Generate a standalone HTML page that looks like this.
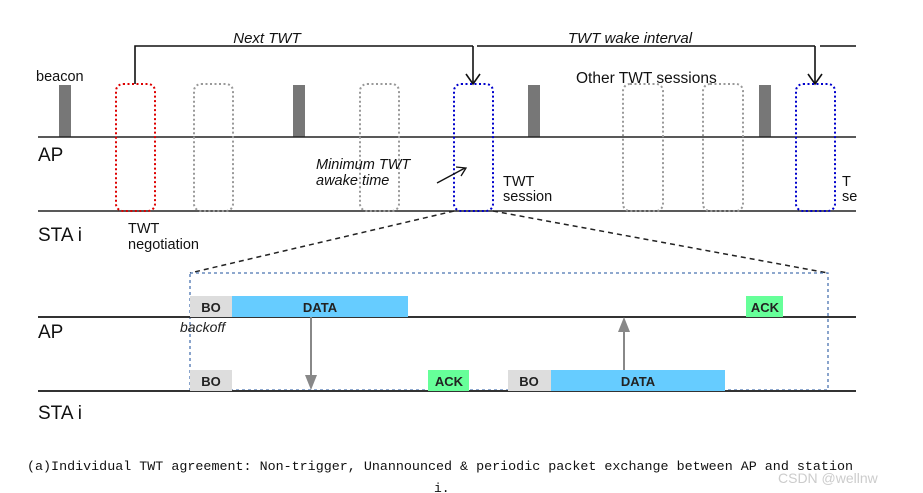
<!DOCTYPE html>
<html><head><style>body{margin:0;background:#fff}svg{display:block}</style></head><body>
<svg width="923" height="493" xmlns="http://www.w3.org/2000/svg" font-family="Liberation Sans, sans-serif">
<!-- brackets -->
<g stroke="#111" stroke-width="1.6" fill="none">
<path d="M135,84 V46 H473"/>
<path d="M473,46 V83"/>
<path d="M466,74 L473,84 L480,74"/>
<path d="M477,46 H815"/>
<path d="M815,46 V83"/>
<path d="M808,74 L815,84 L822,74"/>
<path d="M820,46 H856"/>
</g>
<text x="267" y="43" font-size="15" font-style="italic" text-anchor="middle" fill="#111">Next TWT</text>
<text x="630" y="43" font-size="15" font-style="italic" text-anchor="middle" fill="#111">TWT wake interval</text>
<text x="36" y="81" font-size="14.5" fill="#111">beacon</text>
<text x="576" y="83" font-size="15.5" fill="#111">Other TWT sessions</text>
<!-- beacons -->
<g fill="#777"><rect x="59" y="85" width="12" height="52"/><rect x="293" y="85" width="12" height="52"/><rect x="528" y="85" width="12" height="52"/><rect x="759" y="85" width="12" height="52"/></g>
<!-- lines -->
<g stroke="#222" stroke-width="1.6"><line x1="38" y1="137" x2="856" y2="137"/><line x1="38" y1="211" x2="856" y2="211"/></g>
<!-- dashed boxes -->
<g fill="none" stroke-width="2" stroke-dasharray="2,2.5">
<rect x="116" y="84" width="39" height="127" rx="7" stroke="#d00"/>
<rect x="194" y="84" width="39" height="127" rx="7" stroke="#999"/>
<rect x="360" y="84" width="39" height="127" rx="7" stroke="#999"/>
<rect x="623" y="84" width="40" height="127" rx="7" stroke="#999"/>
<rect x="703" y="84" width="40" height="127" rx="7" stroke="#999"/>
<rect x="454" y="84" width="39" height="127" rx="7" stroke="#00c"/>
<rect x="796" y="84" width="39" height="127" rx="7" stroke="#00c"/>
</g>
<text x="38" y="161" font-size="19" fill="#111">AP</text>
<text x="38" y="241" font-size="19" fill="#111">STA i</text>
<text x="128" y="233" font-size="14.5" fill="#111">TWT</text>
<text x="128" y="249" font-size="14.5" fill="#111">negotiation</text>
<text x="316" y="169" font-size="14.5" font-style="italic" fill="#111">Minimum TWT</text>
<text x="316" y="185" font-size="14.5" font-style="italic" fill="#111">awake time</text>
<line x1="437" y1="183" x2="465" y2="168" stroke="#111" stroke-width="1.3"/>
<path d="M456,167 L466,168 L461,176" fill="none" stroke="#111" stroke-width="1.3"/>
<text x="503" y="186" font-size="14.5" fill="#111">TWT</text>
<text x="503" y="201" font-size="14.5" fill="#111">session</text>
<text x="842" y="186" font-size="14.5" fill="#111">T</text>
<text x="842" y="201" font-size="14.5" fill="#111">se</text>
<!-- zoom lines -->
<g stroke="#222" stroke-width="1.5" stroke-dasharray="5,4"><line x1="454" y1="211" x2="190" y2="273"/><line x1="493" y1="211" x2="828" y2="273"/></g>
<rect x="190" y="273" width="638" height="117" fill="none" stroke="#4a73b0" stroke-width="1.3" stroke-dasharray="3,3"/>
<!-- bottom -->
<g stroke="#333" stroke-width="2"><line x1="38" y1="317" x2="856" y2="317"/><line x1="38" y1="391" x2="856" y2="391"/></g>
<g font-size="13" font-weight="bold" fill="#222" text-anchor="middle">
<rect x="190" y="296" width="42" height="21" fill="#ddd"/><text x="211" y="312">BO</text>
<rect x="232" y="296" width="176" height="21" fill="#66ccff"/><text x="320" y="312">DATA</text>
<rect x="746" y="296" width="37" height="21" fill="#66ff99"/><text x="765" y="312">ACK</text>
<rect x="190" y="370" width="42" height="21" fill="#ddd"/><text x="211" y="386">BO</text>
<rect x="428" y="370" width="41" height="21" fill="#66ff99"/><text x="449" y="386">ACK</text>
<rect x="508" y="370" width="43" height="21" fill="#ddd"/><text x="529" y="386">BO</text>
<rect x="551" y="370" width="174" height="21" fill="#66ccff"/><text x="638" y="386">DATA</text>
</g>
<text x="180" y="332" font-size="14" font-style="italic" fill="#222">backoff</text>
<g stroke="#888" stroke-width="2"><line x1="311" y1="317" x2="311" y2="378"/><line x1="624" y1="370" x2="624" y2="330"/></g>
<path d="M305,375 L317,375 L311,390 Z" fill="#888"/>
<path d="M618,332 L630,332 L624,317 Z" fill="#888"/>
<text x="38" y="338" font-size="19" fill="#111">AP</text>
<text x="38" y="419" font-size="19" fill="#111">STA i</text>
<text x="27" y="470" font-size="13" font-family="Liberation Mono, monospace" fill="#111" textLength="826" lengthAdjust="spacingAndGlyphs">(a)Individual TWT agreement: Non-trigger, Unannounced &amp; periodic packet exchange between AP and station</text>
<text x="434" y="492" font-size="13" font-family="Liberation Mono, monospace" fill="#111">i.</text>
<text x="778" y="483" font-size="14" fill="#ccc">CSDN @wellnw</text>
</svg>
</body></html>
